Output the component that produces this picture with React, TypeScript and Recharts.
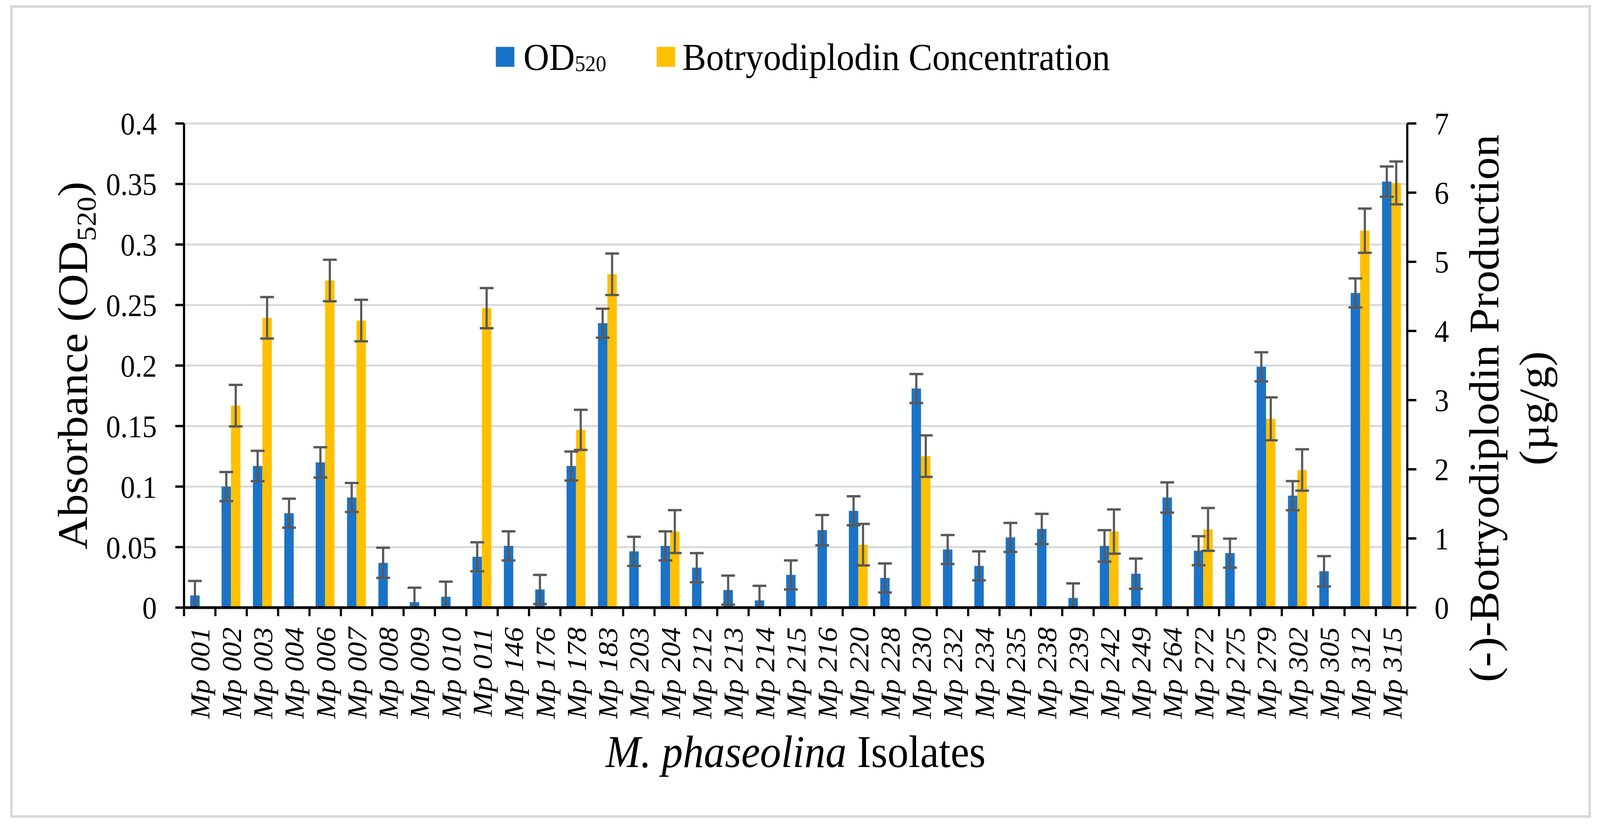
import { BarChart, Bar, XAxis, YAxis, CartesianGrid, Legend, ErrorBar } from "recharts";

const ISOLATES = [
  "Mp 001", "Mp 002", "Mp 003", "Mp 004", "Mp 006", "Mp 007", "Mp 008", "Mp 009", "Mp 010", "Mp 011",
  "Mp 146", "Mp 176", "Mp 178", "Mp 183", "Mp 203", "Mp 204", "Mp 212", "Mp 213", "Mp 214", "Mp 215",
  "Mp 216", "Mp 220", "Mp 228", "Mp 230", "Mp 232", "Mp 234", "Mp 235", "Mp 238", "Mp 239", "Mp 242",
  "Mp 249", "Mp 264", "Mp 272", "Mp 275", "Mp 279", "Mp 302", "Mp 305", "Mp 312", "Mp 315",
];

// absorbance at 520 nm (left axis)
const OD520 = [
  0.010, 0.100, 0.117, 0.078, 0.120, 0.091, 0.037, 0.0045, 0.009, 0.042,
  0.051, 0.015, 0.117, 0.235, 0.0465, 0.051, 0.033, 0.0145, 0.006, 0.027,
  0.064, 0.080, 0.0245, 0.181, 0.048, 0.0345, 0.058, 0.065, 0.008, 0.051,
  0.028, 0.091, 0.047, 0.045, 0.199, 0.0925, 0.030, 0.260, 0.352,
];
const OD520_ERR = [
  0.012, 0.012, 0.0125, 0.012, 0.0125, 0.012, 0.0125, 0.012, 0.0125, 0.012,
  0.012, 0.012, 0.012, 0.012, 0.012, 0.012, 0.012, 0.012, 0.012, 0.012,
  0.0125, 0.012, 0.012, 0.012, 0.012, 0.012, 0.012, 0.0125, 0.012, 0.013,
  0.0125, 0.0125, 0.012, 0.012, 0.012, 0.012, 0.0125, 0.012, 0.0125,
];

// (-)-botryodiplodin, µg/g (right axis)
const BOTRYO = [
  0, 2.92, 4.19, 0, 4.73, 4.15, 0, 0, 0, 4.33,
  0, 0, 2.57, 4.82, 0, 1.10, 0, 0, 0, 0,
  0, 0.91, 0, 2.19, 0, 0, 0, 0, 0, 1.10,
  0, 0, 1.13, 0, 2.73, 1.99, 0, 5.45, 6.14,
];
const BOTRYO_ERR = [
  0.31, 0.30, 0.30, 0.31, 0.30, 0.30, 0.31, 0.31, 0.31, 0.29,
  0.31, 0.31, 0.29, 0.30, 0.31, 0.31, 0.31, 0.31, 0.31, 0.31,
  0.31, 0.30, 0.31, 0.30, 0.31, 0.31, 0.31, 0.31, 0.31, 0.32,
  0.31, 0.31, 0.31, 0.31, 0.31, 0.30, 0.31, 0.32, 0.31,
];

const OD_TICKS = [0, 0.05, 0.1, 0.15, 0.2, 0.25, 0.3, 0.35, 0.4];
const BOTRYO_TICKS = [0, 1, 2, 3, 4, 5, 6, 7];

const BLUE = "#1a73c8";
const YELLOW = "#ffc000";
const ERR_GREY = "#595959";
const GRID = "#d9d9d9";
const FONT = "'Liberation Serif', 'Times New Roman', serif";

const W = 4408;
const H = 2119;
const PLOT = { left: 507, right: 3877, top: 316, bottom: 1555 };
const LEGEND_H = 100;
const BAND = (PLOT.right - PLOT.left) / ISOLATES.length;

// error bars are cut off at zero, like the original
const data = ISOLATES.map((name, i) => ({
  name,
  od: OD520[i],
  odErr: [Math.min(OD520_ERR[i], OD520[i]), OD520_ERR[i]],
  bot: BOTRYO[i],
  botErr: [Math.min(BOTRYO_ERR[i], BOTRYO[i]), BOTRYO_ERR[i]],
}));

function IsolateTick(props: any) {
  const { x, y, payload, index } = props;
  const half = BAND / 2;
  return (
    <g>
      <line x1={x - half} x2={x - half} y1={y} y2={y + 22} stroke="#000" strokeWidth={6} />
      {index === ISOLATES.length - 1 && (
        <line x1={x + half} x2={x + half} y1={y} y2={y + 22} stroke="#000" strokeWidth={6} />
      )}
      <text transform={`translate(${x + 27},${y + 50}) rotate(-90)`} textAnchor="end" fontSize={76}
        fontStyle="italic" fontFamily={FONT} fill="#000">
        {payload.value}
      </text>
    </g>
  );
}

function LeftTitle({ viewBox }: any) {
  const cy = viewBox ? viewBox.y + viewBox.height / 2 : 935;
  return (
    <text transform={`translate(240,${cy}) rotate(-90)`} textAnchor="middle" fontSize={116} fontFamily={FONT} fill="#000">
      Absorbance (OD<tspan dy={24} fontSize={76}>520</tspan><tspan dy={-24}>)</tspan>
    </text>
  );
}

function RightTitle() {
  return (
    <g fontSize={116} fontFamily={FONT} fill="#000">
      <text transform="translate(4128,1045) rotate(-90)" textAnchor="middle">(-)-Botryodiplodin Production</text>
      <text transform="translate(4266,1045) rotate(-90)" textAnchor="middle">(µg/g)</text>
    </g>
  );
}

function BottomTitle({ viewBox }: any) {
  const cx = viewBox ? viewBox.x + viewBox.width / 2 : 2193;
  return (
    <text x={cx} y={1963} textAnchor="middle" fontSize={116} fontFamily={FONT} fill="#000">
      <tspan fontStyle="italic">{"M. phaseolina"}</tspan>{" Isolates"}
    </text>
  );
}

function LegendBox() {
  return (
    <svg width={W} height={LEGEND_H} style={{ display: "block", overflow: "visible" }}>
      <g fontFamily={FONT} fill="#000">
        <rect x={1366} y={20} width={51} height={51} fill={BLUE} />
        <text x={1442} y={79} fontSize={98}>
          OD<tspan dy={3} fontSize={58}>520</tspan>
        </text>
        <rect x={1809} y={20} width={51} height={51} fill={YELLOW} />
        <text x={1880} y={79} fontSize={98}>Botryodiplodin Concentration</text>
      </g>
    </svg>
  );
}

export default function App() {
  // the window may come out narrower than 4408, so squeeze the whole layout to fit it
  const vw = typeof window !== "undefined" ? window.innerWidth : W;
  const vh = typeof window !== "undefined" ? window.innerHeight : H;
  const sx = Math.min(1, vw / W);
  const sy = Math.min(1, vh / H);
  return (
    <div style={{ position: "absolute", left: 0, top: 0, width: W, height: H, background: "#fff",
      transform: `scale(${sx}, ${sy})`, transformOrigin: "0 0" }}>
      <div style={{ position: "absolute", left: 28, top: 13, width: 4355, height: 2080, border: `7px solid ${GRID}`, boxSizing: "border-box" }} />
      <div style={{ position: "absolute", left: 0, top: 0 }}>
        <BarChart width={W} height={H} data={data}
          margin={{ top: PLOT.top - LEGEND_H, right: 0, bottom: 0, left: 0 }} barGap={0} barSize={26}>
          <CartesianGrid yAxisId="left" vertical={false} stroke={GRID} strokeWidth={5} />
          <XAxis dataKey="name" height={H - PLOT.bottom} interval={0} tickLine={false} tickSize={0} tickMargin={0}
            axisLine={{ stroke: "#000", strokeWidth: 7 }} tick={<IsolateTick />} label={{ content: BottomTitle }} />
          <YAxis yAxisId="left" width={PLOT.left} domain={[0, 0.4]} ticks={OD_TICKS} allowDataOverflow
            tickFormatter={(v: number) => String(Number(v.toFixed(2)))}
            tick={{ fontSize: 80, fill: "#000", fontFamily: FONT }} tickSize={24} tickMargin={51}
            axisLine={{ stroke: "#000", strokeWidth: 6 }} tickLine={{ stroke: "#000", strokeWidth: 6 }}
            label={{ content: LeftTitle }} />
          <YAxis yAxisId="right" orientation="right" width={W - PLOT.right} domain={[0, 7]} ticks={BOTRYO_TICKS} allowDataOverflow
            tick={{ fontSize: 80, fill: "#000", fontFamily: FONT }} tickSize={25} tickMargin={50}
            axisLine={{ stroke: "#000", strokeWidth: 6 }} tickLine={{ stroke: "#000", strokeWidth: 6 }}
            label={{ content: RightTitle }} />
          <Legend verticalAlign="top" content={<LegendBox />}
            wrapperStyle={{ top: 100, left: 0, width: W, height: LEGEND_H, margin: 0 }} />
          <Bar yAxisId="left" dataKey="od" name="OD520" fill={BLUE} isAnimationActive={false}>
            <ErrorBar dataKey="odErr" width={19} stroke={ERR_GREY} strokeWidth={6} />
          </Bar>
          <Bar yAxisId="right" dataKey="bot" name="Botryodiplodin Concentration" fill={YELLOW} isAnimationActive={false}>
            <ErrorBar dataKey="botErr" width={19} stroke={ERR_GREY} strokeWidth={6} />
          </Bar>
        </BarChart>
      </div>
    </div>
  );
}
